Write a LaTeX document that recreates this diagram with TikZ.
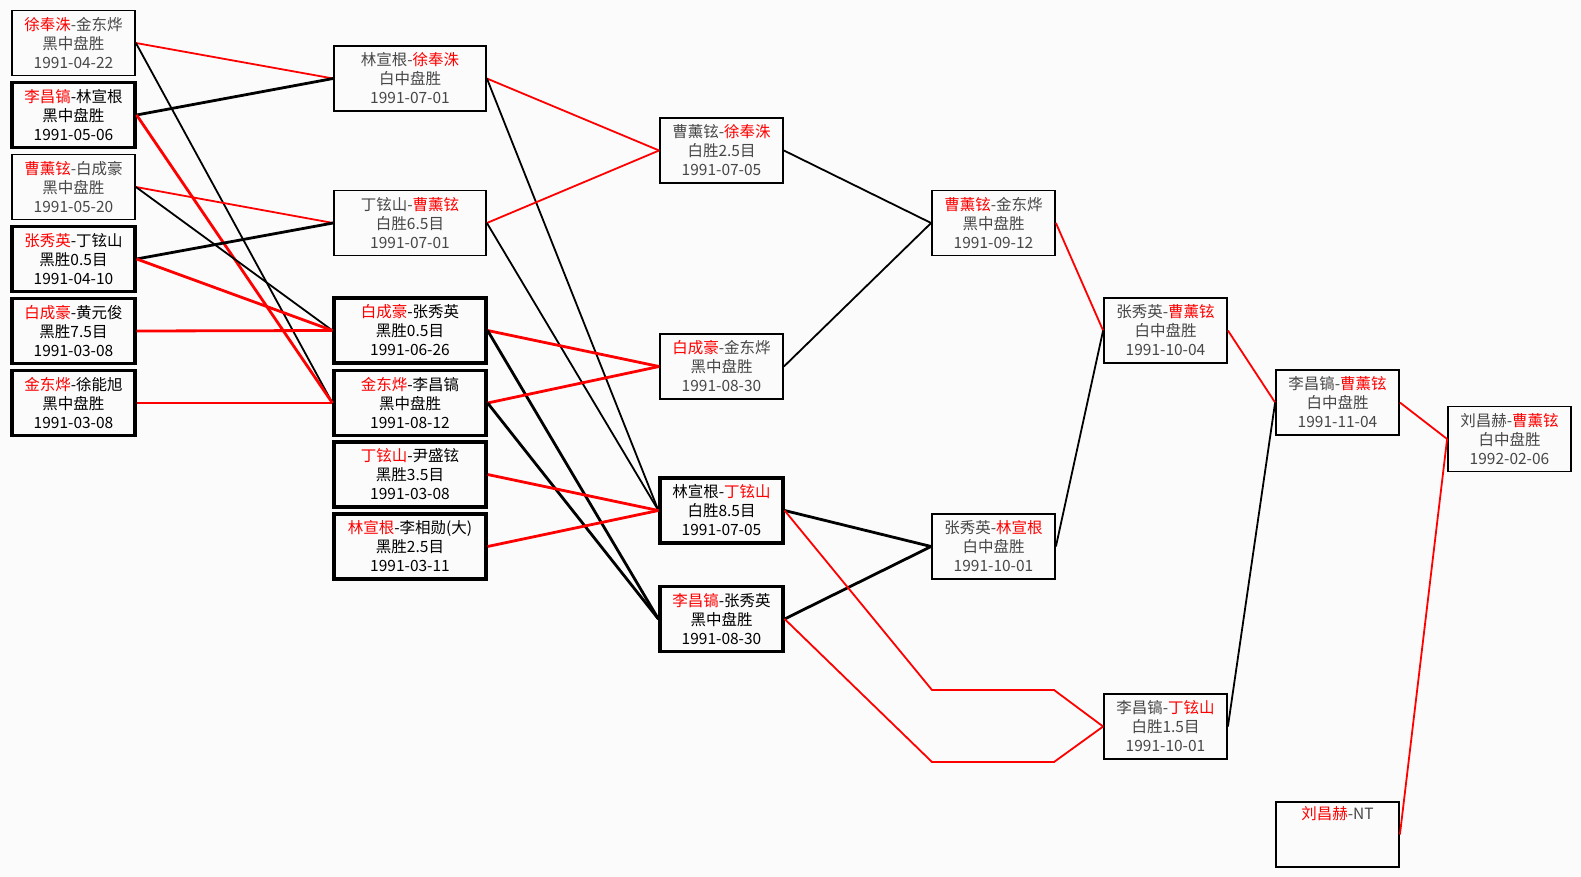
\documentclass[tikz,border=0pt]{standalone}
\usepackage{fontspec}
\setmainfont{Noto Sans CJK SC}
\definecolor{paper}{RGB}{251,251,251}
\newcommand{\winner}[1]{\textcolor{red}{#1}}

\begin{document}
\begin{tikzpicture}[x=1pt,y=-1pt,
    game/.style={rectangle,draw,line width=1.8pt,minimum width=123pt,minimum height=65pt,
      inner sep=0pt,align=center,text=black!72,font=\fontsize{15.5}{19}\selectfont},
    bgame/.style={game,line width=3.2pt,text=black},
    wide/.style={minimum width=152pt},
    link/.style={line width=1.8pt},
    blink/.style={line width=2.8pt}]
    \useasboundingbox (0,0) rectangle (1581,877);
    \fill[paper] (0,0) rectangle (1581,877);

    \node (xujin) at (73.5,43) [game]{\winner{徐奉洙}-金东烨\\黑中盘胜\\1991-04-22};
    \node (leelin) at (73.5,115) [bgame]{\winner{李昌镐}-林宣根\\黑中盘胜\\1991-05-06};
    \node (caobai) at (73.5,187) [game]{\winner{曹薰铉}-白成豪\\黑中盘胜\\1991-05-20};
    \node (zhangding) at (73.5,259) [bgame]{\winner{张秀英}-丁铉山\\黑胜0.5目\\1991-04-10};
    \node (baihuang) at (73.5,331) [bgame]{\winner{白成豪}-黄元俊\\黑胜7.5目\\1991-03-08};
    \node (jinxu) at (73.5,403) [bgame]{\winner{金东烨}-徐能旭\\黑中盘胜\\1991-03-08};

    \node (linxu) at (410,78.5) [game,wide]{林宣根-\winner{徐奉洙}\\白中盘胜\\1991-07-01};
    \node (dingcao) at (410,223) [game,wide]{丁铉山-\winner{曹薰铉}\\白胜6.5目\\1991-07-01};
    \node (baizhang) at (410,330.5) [bgame,wide]{\winner{白成豪}-张秀英\\黑胜0.5目\\1991-06-26};
    \node (jinlee) at (410,403) [bgame,wide]{\winner{金东烨}-李昌镐\\黑中盘胜\\1991-08-12};
    \node (dingyin) at (410,474.5) [bgame,wide]{\winner{丁铉山}-尹盛铉\\黑胜3.5目\\1991-03-08};
    \node (linlee) at (410,546.5) [bgame,wide]{\winner{林宣根}-李相勋(大)\\黑胜2.5目\\1991-03-11};

    \node (caoxu) at (721.5,150.5) [game]{曹薰铉-\winner{徐奉洙}\\白胜2.5目\\1991-07-05};
    \node (baijin) at (721.5,366.5) [game]{\winner{白成豪}-金东烨\\黑中盘胜\\1991-08-30};
    \node (linding) at (721.5,510.5) [bgame]{林宣根-\winner{丁铉山}\\白胜8.5目\\1991-07-05};
    \node (leezhang) at (721.5,619) [bgame]{\winner{李昌镐}-张秀英\\黑中盘胜\\1991-08-30};

    \node (caojin) at (993.5,223) [game]{\winner{曹薰铉}-金东烨\\黑中盘胜\\1991-09-12};
    \node (zhanglin) at (993.5,546.5) [game]{张秀英-\winner{林宣根}\\白中盘胜\\1991-10-01};

    \node (zhangcao) at (1165.5,330.5) [game]{张秀英-\winner{曹薰铉}\\白中盘胜\\1991-10-04};
    \node (leeding) at (1165.5,726.5) [game]{李昌镐-\winner{丁铉山}\\白胜1.5目\\1991-10-01};

    \node (leecao) at (1337.5,402.5) [game]{李昌镐-\winner{曹薰铉}\\白中盘胜\\1991-11-04};
    \node (liunt) at (1337.5,834.5) [game]{\winner{刘昌赫}-NT\\\strut\\\strut};

    \node (liucao) at (1509.5,439) [game]{刘昌赫-\winner{曹薰铉}\\白中盘胜\\1992-02-06};

    \draw [red,link] (xujin.east) -- (linxu.west);
    \draw [link] (xujin.east) -- (jinlee.west);
    \draw [blink] (leelin.east) -- (linxu.west);
    \draw [red,blink] (leelin.east) -- (jinlee.west);
    \draw [red,link] (caobai.east) -- (dingcao.west);
    \draw [link] (caobai.east) -- (baizhang.west);
    \draw [blink] (zhangding.east) -- (dingcao.west);
    \draw [red,blink] (zhangding.east) -- (baizhang.west);
    \draw [red,blink] (baihuang.east) -- (baizhang.west);
    \draw [red,blink] (jinxu.east) -- (jinlee.west);

    \draw [red,link] (linxu.east) -- (caoxu.west);
    \draw [link] (linxu.east) -- (linding.west);
    \draw [red,link] (dingcao.east) -- (caoxu.west);
    \draw [link] (dingcao.east) -- (linding.west);
    \draw [red,blink] (baizhang.east) -- (baijin.west);
    \draw [blink] (baizhang.east) -- (leezhang.west);
    \draw [red,blink] (jinlee.east) -- (baijin.west);
    \draw [blink] (jinlee.east) -- (leezhang.west);
    \draw [red,blink] (dingyin.east) -- (linding.west);
    \draw [red,blink] (linlee.east) -- (linding.west);

    \draw [link] (caoxu.east) -- (caojin.west);
    \draw [link] (baijin.east) -- (caojin.west);
    \draw [blink] (linding.east) -- (zhanglin.west);
    \draw [blink] (leezhang.east) -- (zhanglin.west);
    \draw [red,link] (linding.east) -- (932,690) -- (1054,690) -- (leeding.west);
    \draw [red,link] (leezhang.east) -- (932,762) -- (1054,762) -- (leeding.west);

    \draw [red,link] (caojin.east) -- (zhangcao.west);
    \draw [link] (zhanglin.east) -- (zhangcao.west);
    \draw [red,link] (zhangcao.east) -- (leecao.west);
    \draw [link] (leeding.east) -- (leecao.west);
    \draw [red,link] (leecao.east) -- (liucao.west);
    \draw [red,link] (liunt.east) -- (liucao.west);
\end{tikzpicture}
\end{document}
